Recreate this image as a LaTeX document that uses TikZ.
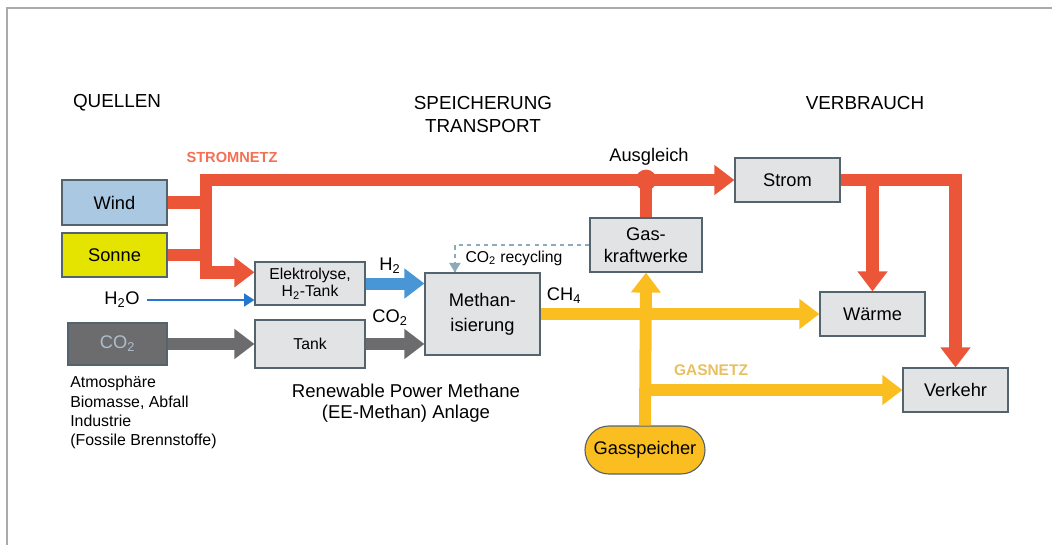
\documentclass[tikz,border=0pt]{standalone}
\usepackage{fontspec}
\setmainfont{Liberation Sans}
\usepackage{tikz}
\usetikzlibrary{arrows.meta}
\definecolor{netred}{RGB}{236,86,56}
\definecolor{netredtext}{RGB}{242,112,84}
\definecolor{gasyellow}{RGB}{251,190,32}
\definecolor{gastext}{RGB}{232,192,96}
\definecolor{hblue}{RGB}{72,150,214}
\definecolor{waterblue}{RGB}{36,118,206}
\definecolor{cogray}{RGB}{108,108,110}
\definecolor{recycle}{RGB}{140,170,184}
\definecolor{boxfill}{RGB}{226,227,229}
\definecolor{boxline}{RGB}{84,100,110}
\definecolor{windblue}{RGB}{170,200,226}
\definecolor{sonnegelb}{RGB}{228,228,0}
\definecolor{cotext}{RGB}{172,190,204}
\definecolor{frame}{RGB}{170,170,170}
\newcommand{\pxu}{0.025cm}

\begin{document}
\begin{tikzpicture}[x=0.025cm,y=-0.025cm,
    box/.style={draw=boxline, fill=boxfill, line width=0.8pt, inner sep=0pt, align=center, font=\fontsize{13}{17.5}\selectfont},
    stromflow/.style={draw=netred, line width=0.32cm},
    gasflow/.style={draw=gasyellow, line width=0.3cm},
    bigtip/.style={-{Triangle[width=0.72cm,length=0.5cm]}},
    label/.style={font=\fontsize{13}{16}\selectfont, inner sep=0pt}]
\useasboundingbox (0,0) rectangle (1052,545);
\draw[frame, line width=1.2pt] (7,545) -- (7,8) -- (1052,8);

% headings
\node[label, font=\fontsize{13.4}{16}\selectfont] (quellen) at (117,103) {QUELLEN};
\node[label, font=\fontsize{13.4}{16.3}\selectfont, align=center] (speicher) at (483,114.5) {SPEICHERUNG\\TRANSPORT};
\node[label, font=\fontsize{13.4}{16}\selectfont] (verbrauch) at (865,103) {VERBRAUCH};

% boxes
\node[box, fill=windblue, minimum width=105*\pxu, minimum height=45*\pxu] (wind) at (114.5,202.5) {Wind};
\node[box, fill=sonnegelb, minimum width=105*\pxu, minimum height=44*\pxu] (sonne) at (114.5,255) {Sonne};
\node[box, fill=cogray, text=cotext, minimum width=99*\pxu, minimum height=42*\pxu] (co2) at (117.5,344) {CO\textsubscript{2}};
\node[box, font=\fontsize{11.2}{12.5}\selectfont, minimum width=110*\pxu, minimum height=43*\pxu] (elek) at (310,283.5) {Elektrolyse,\\H\textsubscript{2}-Tank};
\node[box, font=\fontsize{11.2}{12.5}\selectfont, minimum width=110*\pxu, minimum height=48*\pxu] (tank) at (310,344) {Tank};
\node[box, minimum width=115*\pxu, minimum height=82*\pxu] (meth) at (482.5,314) {Methan-\\isierung};
\node[box, font=\fontsize{13}{15.6}\selectfont, minimum width=112*\pxu, minimum height=54*\pxu] (gaskw) at (646,245) {Gas-\\kraftwerke};
\node[box, minimum width=105*\pxu, minimum height=44*\pxu] (strom) at (787.5,180) {Strom};
\node[box, minimum width=105*\pxu, minimum height=44*\pxu] (waerme) at (872.5,314) {Wärme};
\node[box, minimum width=105*\pxu, minimum height=44*\pxu] (verkehr) at (955.5,390) {Verkehr};
\node[box, fill=gasyellow, rounded corners=0.6cm, minimum width=120*\pxu, minimum height=48*\pxu] (gasspeicher) at (645,450) {Gasspeicher};

\coordinate (split) at (206,180);
\coordinate (ausgl) at (gaskw.north |- split);

% Stromnetz
\draw[stromflow] (wind.east) -- (wind.east -| split);
\draw[stromflow] (sonne.east) -- (sonne.east -| split);
\draw[stromflow, {Triangle[width=0.72cm,length=0.5cm]}-{Triangle[width=0.72cm,length=0.5cm]}]
    ([yshift=0.28cm]elek.west) -| (split) -- (strom.west);
\draw[stromflow] (gaskw.north) -- (ausgl);
\fill[netred] (ausgl) circle[radius=0.26cm];
\draw[stromflow, bigtip] (strom.east) -| (verkehr.north);
\draw[stromflow, bigtip] (strom.east -| waerme.north) -- (waerme.north);

% Gasnetz
\draw[gasflow, bigtip] (meth.east) -- (waerme.west);
\draw[gasflow, bigtip] (gasspeicher.north) -- (gaskw.south);
\draw[gasflow, bigtip] (gasspeicher.north |- verkehr.west) -- (verkehr.west);

% Methanisierung
\draw[draw=hblue, line width=0.3cm, bigtip] (elek.east) -- (meth.west |- elek.east);
\draw[draw=cogray, line width=0.3cm, bigtip] (tank.east) -- (meth.west |- tank.east);
\draw[draw=cogray, line width=0.3cm, bigtip] (co2.east) -- (tank.west);
\node[label] (h2o) at (122,300) {H\textsubscript{2}O};
\draw[waterblue, line width=1.6pt, -{Triangle[width=0.32cm,length=0.26cm]}] ([xshift=0.17cm]h2o.east) -- (elek.west |- h2o.east);
\draw[recycle, line width=1.4pt, dashed] (gaskw.west) -| ([xshift=-0.69cm]meth.north);
\draw[recycle, line width=1.4pt, -{Triangle[width=0.28cm,length=0.24cm]}] ([xshift=-0.69cm,yshift=0.25cm]meth.north) -- ([xshift=-0.69cm]meth.north);

% labels
\node[label, font=\bfseries\fontsize{10.4}{12}\selectfont, text=netredtext] (stromnetz) at (232,157) {STROMNETZ};
\node[label, font=\bfseries\fontsize{11}{13}\selectfont, text=gastext] (gasnetz) at (711,370) {GASNETZ};
\node[label] (ausgleich) at (649,157) {Ausgleich};
\node[label] (h2) at (390,266) {H\textsubscript{2}};
\node[label] (co2lab) at (390,318) {CO\textsubscript{2}};
\node[label] (ch4) at (564,296) {CH\textsubscript{4}};
\node[label, font=\fontsize{11.2}{13}\selectfont] (recyc) at (514,258) {CO\textsubscript{2} recycling};
\node[label, anchor=north west, align=left, font=\fontsize{11.3}{13.7}\selectfont] (herkunft) at (70,376)
    {Atmosphäre\\Biomasse, Abfall\\Industrie\\(Fossile Brennstoffe)};
\node[label, align=center, font=\fontsize{13.2}{15}\selectfont] (anlage) at (406,403)
    {Renewable Power Methane\\(EE-Methan) Anlage};
\end{tikzpicture}
\end{document}
